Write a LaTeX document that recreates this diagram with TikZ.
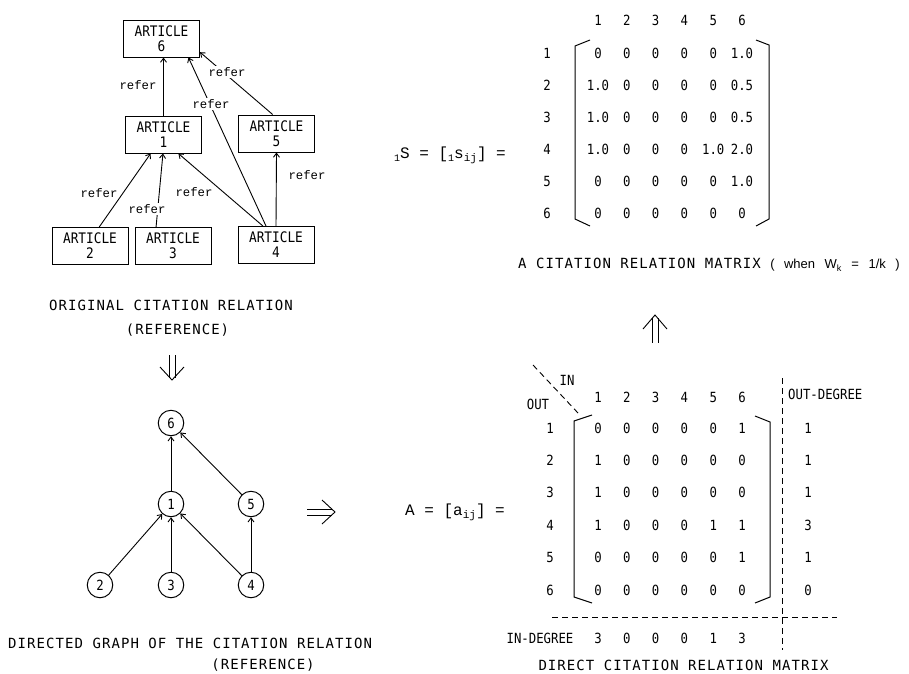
\documentclass[tikz,border=0pt]{standalone}
\usepackage{fontspec}
\usetikzlibrary{arrows.meta,calc}
\newfontfamily\capfont{DejaVu Sans Mono}[LetterSpace=7.6]
\newfontfamily\lblfont{DejaVu Sans Mono}[FakeStretch=0.88]
\newfontfamily\ttfont{Liberation Mono}
\newfontfamily\psfont{Liberation Sans}
\tikzset{
  artbox/.style={draw, line width=1pt, minimum width=76pt, minimum height=37pt, inner sep=0pt, align=center, font=\lblfont\fontsize{14.5}{15}\selectfont},
  referlbl/.style={fill=white, inner sep=1pt, font=\ttfont\fontsize{12.3}{13}\selectfont},
  cit/.style={line width=0.9pt, -{Straight Barb[length=4pt,width=6pt]}},
  vtx/.style={circle, draw, line width=1pt, minimum size=25.5pt, inner sep=0pt, font=\lblfont\fontsize{14}{14}\selectfont},
  mat/.style={inner sep=0pt, font=\lblfont\fontsize{14}{14}\selectfont},
  captext/.style={inner sep=0pt, font=\capfont\fontsize{14}{16}\selectfont},
  formula/.style={inner sep=0pt, font=\ttfont\fontsize{16}{18}\selectfont},
  dashline/.style={line width=0.9pt, dash pattern=on 6pt off 4pt},
  brk/.style={line width=1pt},
  dbl/.style={line width=0.9pt},
}
\begin{document}
\begin{tikzpicture}[x=1pt,y=-1pt]
\path[use as bounding box, fill=white] (0,0) rectangle (909,673);

% ---------- original citation relation ----------
\node[artbox] (a6) at (161.5,38.5) {ARTICLE\\6};
\node[artbox] (a1) at (163.5,134.5) {ARTICLE\\1};
\node[artbox] (a5) at (276.5,133.5) {ARTICLE\\5};
\node[artbox] (a2) at (90,246) {ARTICLE\\2};
\node[artbox] (a3) at (173,246) {ARTICLE\\3};
\node[artbox] (a4) at (276,245) {ARTICLE\\4};

\draw[cit] (a1.north) -- (a1.north |- a6.south);
\draw[cit] ($(a2.north west)!0.62!(a2.north east)$) -- ($(a1.south west)!0.333!(a1.south east)$);
\draw[cit] ($(a3.north west)!0.28!(a3.north east)$) -- ($(a1.south west)!0.493!(a1.south east)$);
\draw[cit] ($(a4.north west)!0.33!(a4.north east)$) -- ($(a1.south west)!0.693!(a1.south east)$);
\draw[cit] ($(a4.north west)!0.37!(a4.north east)$) -- ($(a6.south west)!0.85!(a6.south east)$);
\draw[cit] (a4.north) -- (a5.south);
\draw[cit] ($(a5.north west)!0.45!(a5.north east)$) -- ($(a6.north east)!0.86!(a6.south east)$);

\node[referlbl] (r16) at (138,85) {refer};
\node[referlbl] (r21) at (99,193) {refer};
\node[referlbl] (r31) at (147,209) {refer};
\node[referlbl] (r41) at (194,192) {refer};
\node[referlbl] (r46) at (211,104) {refer};
\node[referlbl] (r45) at (307,175) {refer};
\node[referlbl] (r56) at (227,72) {refer};

\node[captext] (cap1) at (171,305) {ORIGINAL CITATION RELATION};
\node[captext] (cap1b) at (177.5,330) {(REFERENCE)};

% down double arrow
\draw[dbl] (169,355) -- (169,378) (175,355) -- (175,378);
\draw[dbl] (160,367) -- (172,380) -- (184,367);

% ---------- directed graph ----------
\node[vtx] (v6) at (171,423) {6};
\node[vtx] (v1) at (171,504) {1};
\node[vtx] (v5) at (251,504) {5};
\node[vtx] (v2) at (100,585) {2};
\node[vtx] (v3) at (171,585) {3};
\node[vtx] (v4) at (251,585) {4};
\draw[cit] (v1) -- (v6);
\draw[cit] (v5) -- (v6);
\draw[cit] (v2) -- (v1);
\draw[cit] (v3) -- (v1);
\draw[cit] (v4) -- (v1);
\draw[cit] (v4) -- (v5);

\node[captext, anchor=west] (cap2) at (8,643) {DIRECTED GRAPH OF THE CITATION RELATION};
\node[captext] (cap2b) at (263,665) {(REFERENCE)};

% right double arrow
\draw[dbl] (307,509) -- (332,509) (307,515) -- (332,515);
\draw[dbl] (322,500) -- (335,512) -- (322,524);

% ---------- citation relation matrix S ----------
\node[formula] (sform) at (450,155) {\raisebox{-3pt}{\fontsize{10}{10}\selectfont 1}S = [\raisebox{-3pt}{\fontsize{10}{10}\selectfont 1}s\raisebox{-3pt}{\fontsize{11}{11}\selectfont ij}] =};
\foreach \j in {1,...,6} {
  \node[mat] (sc-\j) at ({598+28.8*(\j-1)},20) {\j};
  \node[mat] (sr-\j) at (547,{53+32*(\j-1)}) {\j};
}
\foreach \rowvals [count=\i] in {{0,0,0,0,0,1.0},{1.0,0,0,0,0,0.5},{1.0,0,0,0,0,0.5},{1.0,0,0,0,1.0,2.0},{0,0,0,0,0,1.0},{0,0,0,0,0,0}} {
  \foreach \v [count=\j] in \rowvals {
    \node[mat] (s-\i-\j) at ({598+28.8*(\j-1)},{53+32*(\i-1)}) {\v};
  }
}
\draw[brk] (590,40) -- (575,46) -- (575,219) -- (590,226);
\draw[brk] (756,40) -- (769,45) -- (769,219) -- (756,226);
\node[captext, anchor=west] (cap3) at (518,265) {A CITATION RELATION MATRIX {\psfont\fontsize{13}{15}\selectfont\spaceskip=9.5pt ( when W\textsubscript{k} = 1/k )}};

% up double arrow
\draw[dbl] (652,318) -- (652,343) (658,318) -- (658,343);
\draw[dbl] (643,329) -- (655,315) -- (667,329);

% ---------- direct citation relation matrix A ----------
\node[formula] (aform) at (455,512) {A = [a\raisebox{-3pt}{\fontsize{11}{11}\selectfont ij}] =};
\draw[dashline] (533,365) -- (578,413);
\node[mat] (inlbl) at (567,380) {IN};
\node[mat] (outlbl) at (538,404) {OUT};
\foreach \j in {1,...,6} {
  \node[mat] (ac-\j) at ({598+28.8*(\j-1)},397) {\j};
  \node[mat] (ar-\j) at (550,{428+32.4*(\j-1)}) {\j};
}
\foreach \rowvals [count=\i] in {{0,0,0,0,0,1},{1,0,0,0,0,0},{1,0,0,0,0,0},{1,0,0,0,1,1},{0,0,0,0,0,1},{0,0,0,0,0,0}} {
  \foreach \v [count=\j] in \rowvals {
    \node[mat] (a-\i-\j) at ({598+28.8*(\j-1)},{428+32.4*(\i-1)}) {\v};
  }
}
\draw[brk] (592,415) -- (574,421) -- (574,597) -- (592,603);
\draw[brk] (755,416) -- (770,422) -- (770,597) -- (755,603);
\draw[dashline] (782,378) -- (782,650);
\draw[dashline] (552,617) -- (837,617);
\node[mat, anchor=west] (outdeg) at (788,394) {OUT-DEGREE};
\foreach \v [count=\i] in {1,1,1,3,1,0} {
  \node[mat] (od-\i) at (808,{428+32.4*(\i-1)}) {\v};
}
\node[mat] (indeg) at (540,638) {IN-DEGREE};
\foreach \v [count=\j] in {3,0,0,0,1,3} {
  \node[mat] (id-\j) at ({598+28.8*(\j-1)},638) {\v};
}
\node[captext] (cap4) at (683.5,665) {DIRECT CITATION RELATION MATRIX};
\end{tikzpicture}
\end{document}
